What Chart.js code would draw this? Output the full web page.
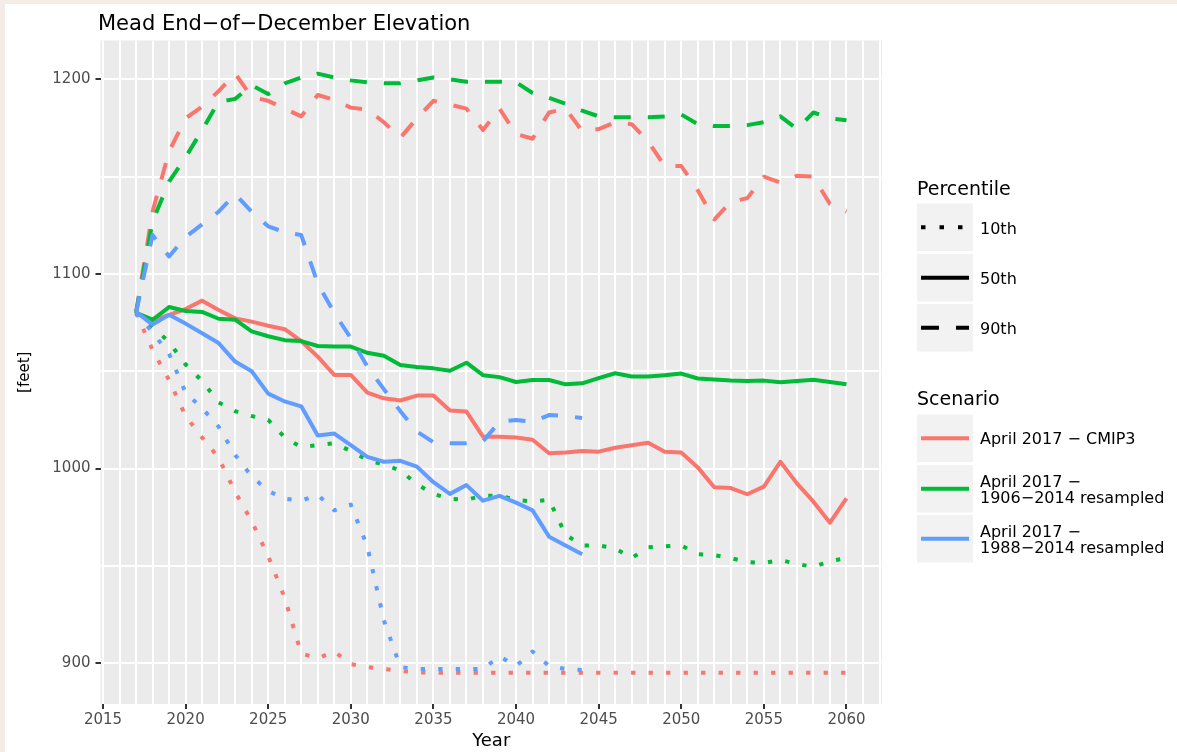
<!DOCTYPE html>
<html>
<head>
<meta charset="utf-8">
<title>Mead End-of-December Elevation</title>
<script src="https://cdn.jsdelivr.net/npm/chart.js@4.4.1/dist/chart.umd.min.js"></script>
<style>
  html, body { margin: 0; padding: 0; background: #fff; }
  canvas { display: block; }
</style>
</head>
<body>
<canvas id="chart" width="1177" height="752"></canvas>
<script>
// ── Data ─────────────────────────────────────────────────────────────────
const YEARS = [2017, 2018, 2019, 2020, 2021, 2022, 2023, 2024, 2025, 2026, 2027,
  2028, 2029, 2030, 2031, 2032, 2033, 2034, 2035, 2036, 2037, 2038, 2039, 2040,
  2041, 2042, 2043, 2044, 2045, 2046, 2047, 2048, 2049, 2050, 2051, 2052, 2053,
  2054, 2055, 2056, 2057, 2058, 2059, 2060];

// April 2017 - CMIP3 (2017-2060)
const CMIP3_P10 = [1080, 1061, 1045.5, 1027, 1016, 1005.5, 988, 973, 955, 933.5, 905,
  902.5, 906, 899.5, 898, 897, 896, 895.3, 895, 895, 895, 895, 895, 895, 895, 895,
  895, 895, 895, 895, 895, 895, 895, 895, 895, 895, 895, 895, 895, 895, 895, 895, 895, 895];
const CMIP3_P50 = [1080, 1076, 1079, 1082, 1086.3, 1081.5, 1077.2, 1075.5, 1073.4, 1071.6,
  1065.5, 1057.5, 1048.1, 1048.1, 1039, 1036.1, 1035, 1037.5, 1037.5, 1029.8, 1029.3,
  1016.4, 1016.4, 1016, 1014.8, 1007.9, 1008.2, 1009, 1008.7, 1010.7, 1012, 1013.3,
  1008.7, 1008.2, 1000.6, 990.4, 990, 986.8, 990.7, 1003.5, 992.4, 983, 972.2, 984.7];
const CMIP3_P90 = [1080, 1132, 1163, 1180, 1186, 1194, 1203, 1191, 1189, 1185, 1181,
  1192, 1189.5, 1185.5, 1184.5, 1178, 1170, 1180, 1189, 1187, 1185, 1174, 1185, 1172,
  1169.5, 1183, 1185, 1173.5, 1174.5, 1178, 1177, 1168, 1155.5, 1155.5, 1143, 1128,
  1137, 1139, 1150, 1147, 1150.5, 1150, 1136, 1132];

// April 2017 - 1906-2014 resampled (2017-2060)
const RES1906_P10 = [1080, 1073, 1065, 1053.5, 1045, 1034, 1029.5, 1027, 1025, 1016, 1011,
  1012, 1013, 1009, 1004.5, 1002, 999, 992, 987, 984.5, 984, 986, 986, 984, 983, 984,
  966, 960.5, 960.5, 959, 954, 959.5, 960, 960.5, 956, 955.5, 954, 952, 951.5, 953,
  951, 949.5, 952.5, 954];
const RES1906_P50 = [1080, 1076.5, 1083, 1081, 1080.5, 1077, 1076.5, 1070.5, 1068, 1066,
  1065.5, 1063, 1062.7, 1062.7, 1059.5, 1058, 1053.2, 1052.2, 1051.5, 1050.3, 1054.4,
  1048, 1047, 1044.5, 1045.5, 1045.5, 1043.3, 1043.8, 1046.5, 1049, 1047.3, 1047.3,
  1048, 1048.8, 1046.3, 1045.8, 1045.3, 1045, 1045.2, 1044.4, 1045, 1045.6, 1044.5, 1043.3];
const RES1906_P90 = [1080, 1127, 1147.5, 1160, 1174, 1188.5, 1190, 1197, 1192.5, 1198,
  1201, 1203, 1201, 1199.5, 1198.5, 1198, 1198, 1199.5, 1201, 1200, 1198.8, 1198.8,
  1198.8, 1198.5, 1193, 1190.5, 1187.5, 1184, 1181, 1180.5, 1180.5, 1180.5, 1181, 1182,
  1177, 1176, 1176, 1176.5, 1178, 1181, 1174.5, 1183, 1180, 1179];

// April 2017 - 1988-2014 resampled (2017-2044)
const RES1988_P10 = [1080, 1070, 1059, 1039, 1031, 1021.5, 1007, 996, 988.5, 984.5, 983.5,
  986.5, 978.5, 981.5, 960, 922, 898, 897, 897, 897, 897, 897, 903.5, 898.5, 906, 898.5,
  897, 896.5];
const RES1988_P50 = [1080.5, 1074, 1079, 1074.5, 1069.5, 1064.5, 1055, 1050, 1038.5, 1034.5,
  1032, 1017, 1018, 1012, 1006, 1003.5, 1004, 1001, 993, 987, 991.5, 983.5, 986, 982.5,
  978.5, 965, 960.5, 956];
const RES1988_P90 = [1080, 1120, 1109, 1119, 1125.5, 1132, 1141, 1132, 1124.5, 1121.5, 1120,
  1095, 1080, 1067, 1052.4, 1040.8, 1029.5, 1019, 1013.5, 1013, 1013, 1014, 1024, 1025,
  1024, 1027.5, 1027, 1026];

const SCENARIOS = ['April 2017 \u2212 CMIP3', 'April 2017 \u2212 1906\u22122014 resampled',
  'April 2017 \u2212 1988\u22122014 resampled'];
const PERCENTILES = ['10th', '50th', '90th'];

// ── Styling ──────────────────────────────────────────────────────────────
const RED = '#F8766D', GREEN = '#00BA38', BLUE = '#619CFF';
const DOTTED = [4.3, 13.2];
const DASHED = [17, 17];
const SOLID = [];
const FONT = '"DejaVu Sans", sans-serif';

function series(label, values, color, dash) {
  return {
    label,
    data: values.map((v, i) => ({ x: YEARS[i], y: v })),
    borderColor: color,
    borderWidth: 4,
    borderDash: dash,
    borderCapStyle: 'butt',
    borderJoinStyle: 'round',
    pointRadius: 0,
    tension: 0,
    fill: false,
  };
}

// first dataset is drawn on top
const datasets = [
  series('1988 10th', RES1988_P10, BLUE, DOTTED),
  series('1988 50th', RES1988_P50, BLUE, SOLID),
  series('1988 90th', RES1988_P90, BLUE, DASHED),
  series('1906 10th', RES1906_P10, GREEN, DOTTED),
  series('1906 50th', RES1906_P50, GREEN, SOLID),
  series('1906 90th', RES1906_P90, GREEN, DASHED),
  series('CMIP3 10th', CMIP3_P10, RED, DOTTED),
  series('CMIP3 50th', CMIP3_P50, RED, SOLID),
  series('CMIP3 90th', CMIP3_P90, RED, DASHED),
];

// ── Panel, titles and legend drawn around the chart ──────────────────────
const ggFrame = {
  id: 'ggFrame',
  beforeDraw(chart) {
    const { ctx, chartArea: a } = chart;
    ctx.save();
    ctx.fillStyle = '#f4ece7';
    ctx.fillRect(0, 0, chart.width, chart.height);
    ctx.fillStyle = '#ffffff';
    ctx.fillRect(5, 4, chart.width - 5, chart.height - 4);
    ctx.fillStyle = '#ebebeb';
    ctx.fillRect(a.left, a.top, a.right - a.left, a.bottom - a.top);
    ctx.restore();
  },
  afterDraw(chart) {
    const { ctx, chartArea: a } = chart;
    ctx.save();
    ctx.fillStyle = '#000';

    // title
    ctx.font = '21px ' + FONT;
    ctx.textAlign = 'left';
    ctx.textBaseline = 'alphabetic';
    ctx.fillText('Mead End\u2212of\u2212December Elevation', 98, 29.5);

    // axis titles
    ctx.font = '18px ' + FONT;
    ctx.textAlign = 'center';
    ctx.fillText('Year', (a.left + a.right) / 2, 746);
    ctx.save();
    ctx.translate(28.5, (a.top + a.bottom) / 2);
    ctx.rotate(-Math.PI / 2);
    ctx.font = '15px ' + FONT;
    ctx.fillText('[feet]', 0, 0);
    ctx.restore();

    // legends
    const kx = 917, kw = 56, kh = 47.5;
    const drawKey = (y, color, dash, legendDash) => {
      ctx.fillStyle = '#f2f2f2';
      ctx.fillRect(kx, y, kw, kh);
      ctx.strokeStyle = color;
      ctx.lineWidth = 4.2;
      ctx.lineCap = 'butt';
      ctx.setLineDash(legendDash || dash);
      ctx.beginPath();
      ctx.moveTo(921, y + kh / 2);
      ctx.lineTo(969, y + kh / 2);
      ctx.stroke();
      ctx.setLineDash([]);
    };

    ctx.textAlign = 'left';
    ctx.fillStyle = '#000';
    ctx.font = '19px ' + FONT;
    ctx.fillText('Percentile', 917, 195);
    const pctY = [203.5, 254, 304];
    drawKey(pctY[0], '#000', DOTTED, [4.5, 14]);
    drawKey(pctY[1], '#000', SOLID);
    drawKey(pctY[2], '#000', DASHED, [18, 17]);
    ctx.fillStyle = '#000';
    ctx.font = '16px ' + FONT;
    PERCENTILES.forEach((p, i) => ctx.fillText(p, 980, pctY[i] + 30));

    ctx.font = '19px ' + FONT;
    ctx.fillText('Scenario', 917, 405);
    const scY = [414.5, 465, 515];
    [RED, GREEN, BLUE].forEach((c, i) => drawKey(scY[i], c, SOLID));
    ctx.fillStyle = '#000';
    ctx.font = '16px ' + FONT;
    ctx.fillText(SCENARIOS[0], 980, 444);
    SCENARIOS.slice(1).forEach((s, i) => {
      const parts = s.split(' \u2212 ');
      const y = scY[i + 1];
      ctx.fillText(parts[0] + ' \u2212', 980, y + 21.5);
      ctx.fillText(parts[1], 980, y + 38);
    });

    ctx.restore();
  },
};

const tickColor = (step) => (c) =>
  (c.tick && Math.abs(c.tick.value % step) < 1e-6) ? '#333333' : 'rgba(0,0,0,0)';

new Chart(document.getElementById('chart'), {
  type: 'line',
  data: { datasets },
  options: {
    responsive: false,
    animation: false,
    devicePixelRatio: 1,
    layout: { padding: { top: 40.5, right: 295, left: 0, bottom: 0 } },
    plugins: { legend: { display: false }, tooltip: { enabled: false }, title: { display: false } },
    scales: {
      x: {
        type: 'linear',
        min: 2014.85,
        max: 2062.15,
        border: { display: false },
        grid: { color: '#ffffff', lineWidth: 2, tickLength: 5, tickWidth: 2, tickColor: tickColor(5) },
        ticks: {
          stepSize: 1,
          autoSkip: false,
          maxRotation: 0,
          includeBounds: false,
          padding: 2,
          color: '#4d4d4d',
          font: { family: FONT, size: 15 },
          callback: (v) => (v % 5 === 0 ? String(v) : ''),
        },
        afterFit: (s) => { s.height = 48; },
      },
      y: {
        type: 'linear',
        min: 879,
        max: 1220,
        border: { display: false },
        grid: { color: '#ffffff', lineWidth: 2, tickLength: 5, tickWidth: 2, tickColor: tickColor(100) },
        ticks: {
          stepSize: 50,
          includeBounds: false,
          padding: 5,
          color: '#4d4d4d',
          font: { family: FONT, size: 15 },
          callback: (v) => (v % 100 === 0 ? String(v) : ''),
        },
        afterFit: (s) => { s.width = 100.5; },
      },
    },
  },
  plugins: [ggFrame],
});
</script>
</body>
</html>
